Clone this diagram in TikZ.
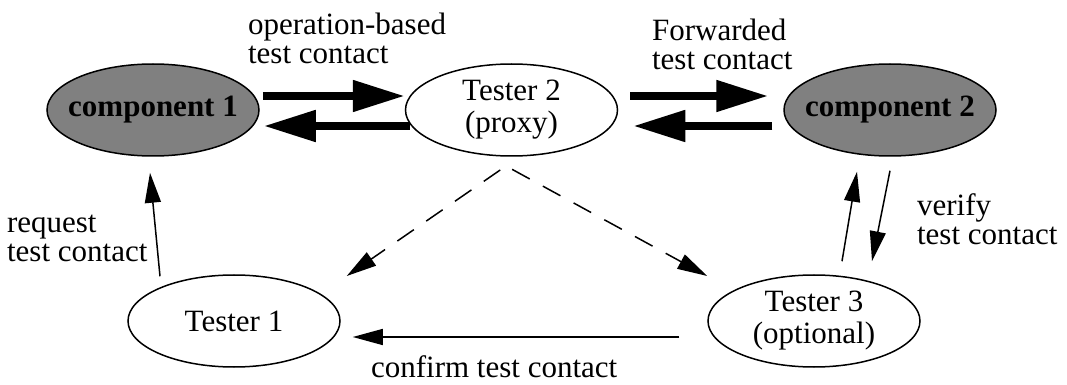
\documentclass[tikz,border=0pt]{standalone}
\usepackage{fontspec}
\setmainfont{Liberation Serif}
\usetikzlibrary{arrows.meta}
\usetikzlibrary{positioning, shapes.geometric}

\begin{document}
\begin{tikzpicture}[x=0.5pt, y=-0.5pt,
    every node/.style={font=\fontsize{15.5}{14.5}\selectfont},
    unit/.style={ellipse, draw, line width=0.75pt, minimum width=106pt, minimum height=46pt, inner sep=0pt, align=center},
    comp/.style={unit, fill=gray, inner xsep=-6pt, font=\fontsize{15.5}{14.5}\selectfont\bfseries},
    tester/.style={unit, fill=white, font=\fontsize{15.5}{16}\selectfont},
    fat/.style={line width=4pt, -{Triangle[length=26pt, width=15pt]}},
    thin/.style={line width=0.75pt, -{Triangle[length=15pt, width=8pt]}},
    probe/.style={thin, dash pattern=on 10pt off 7.5pt, dash phase=14pt},
    lbl/.style={anchor=base west, align=left}]
    \useasboundingbox (0,0) rectangle (1067,385);

    % 上排：组件与代理
    \node[comp] (comp1) at (153,110) {component 1};
    \node[tester, right=72.5pt of comp1] (tester2) {Tester 2\\(proxy)};
    \node[comp, right=82.5pt of tester2] (comp2) {component 2};
    % 下排：测试者
    \node[tester] (tester1) at (234,321) {Tester 1};
    \node[tester] (tester3) at (814,321) {Tester 3\\(optional)};
    \coordinate (split) at (506,166); % 虚线分叉点

    \draw[fat] ([xshift=1.5pt, yshift=7pt]comp1.east) -- ([yshift=7pt]tester2.west);
    \draw[fat] ([xshift=2.5pt, yshift=-8pt]tester2.west) -- ([xshift=2pt, yshift=-8pt]comp1.east);
    \draw[fat] ([xshift=6pt, yshift=7pt]tester2.east) -- ([xshift=-7.5pt, yshift=7pt]comp2.west);
    \draw[fat] ([xshift=-5.5pt, yshift=-8pt]comp2.west) -- ([xshift=7.5pt, yshift=-8pt]tester2.east);

    \draw[thin] ([xshift=-37pt, yshift=-1pt]tester1.north) -- ([xshift=-1.5pt, yshift=-8pt]comp1.south);
    \draw[thin] ([xshift=14pt, yshift=6.5pt]tester3.north) -- ([xshift=-16.5pt, yshift=-7.5pt]comp2.south);
    \draw[thin] ([yshift=-7pt]comp2.south) -- ([xshift=29pt, yshift=6.5pt]tester3.north);
    \draw[thin] ([xshift=-14pt, yshift=-8pt]tester3.west) -- ([xshift=6pt, yshift=-8pt]tester1.east);

    \draw[probe] (split) -- ([xshift=3pt, yshift=22.5pt]tester1.east);
    \draw[probe] (split) -- ([yshift=22.5pt]tester3.west);

    % 标注文字（基线取最后一行）
    \node[lbl] (oplbl) at (241,64) {operation-based\\test contact};
    \node[lbl] (fwdlbl) at (645,70) {Forwarded\\test contact};
    \node[lbl] (reqlbl) at (0,262) {request\\test contact};
    \node[lbl] (verlbl) at (910,245) {verify\\test contact};
    \node[lbl] (conlbl) at (364,378) {confirm test contact};
\end{tikzpicture}
\end{document}
